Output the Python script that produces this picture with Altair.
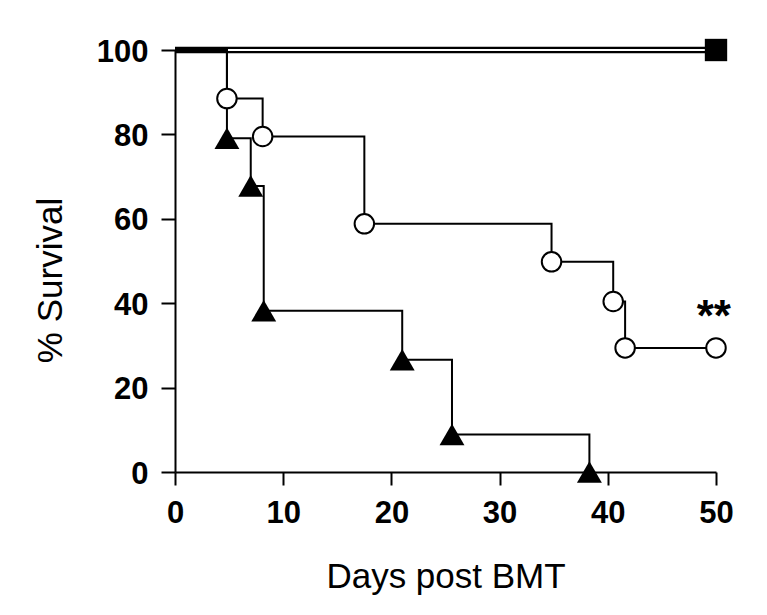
import altair as alt
import pandas as pd

# Kaplan-Meier style survival data
circle_days = [0, 4.8, 8.1, 17.5, 34.8, 40.5, 41.6, 50]
circle_surv = [100, 88.5, 79.5, 58.8, 49.8, 40.4, 29.4, 29.4]

triangle_days = [0, 4.8, 7.0, 8.2, 21.0, 25.6, 38.3]
triangle_surv = [100, 79.1, 67.8, 38.2, 26.6, 8.9, 0]

control_days = [0, 50]
control_surv = [100, 100]

annot_day = [49.8]
annot_surv = [33.5]
annot_text = ["**"]

x_ticks = [0, 10, 20, 30, 40, 50]
y_ticks = [0, 20, 40, 60, 80, 100]

FONT = "Liberation Sans"

circ = pd.DataFrame({"day": circle_days, "surv": circle_surv, "i": range(len(circle_days))})
tri = pd.DataFrame({"day": triangle_days, "surv": triangle_surv, "i": range(len(triangle_days))})
ctrl = pd.DataFrame({"day": control_days, "surv": control_surv, "i": range(len(control_days))})
annot = pd.DataFrame({"day": annot_day, "surv": annot_surv, "t": annot_text})

X = alt.X(
    "day:Q",
    scale=alt.Scale(domain=[0, 50], nice=False, zero=False),
    axis=alt.Axis(
        title="Days post BMT",
        values=x_ticks,
        grid=False,
        domainColor="black",
        domainWidth=2,
        tickColor="black",
        tickWidth=2,
        tickSize=13,
        labelFont=FONT,
        labelFontSize=31,
        labelFontWeight="bold",
        labelColor="black",
        labelPadding=13,
        labelFlush=False,
        titleFont=FONT,
        titleFontSize=35,
        titleFontWeight="normal",
        titleColor="black",
        titleY=115,
        titleBaseline="alphabetic",
    ),
)
Y = alt.Y(
    "surv:Q",
    scale=alt.Scale(domain=[0, 100], nice=False, zero=False),
    axis=alt.Axis(
        title="% Survival",
        values=y_ticks,
        grid=False,
        domainColor="black",
        domainWidth=2,
        tickColor="black",
        tickWidth=2,
        tickSize=14,
        labelFont=FONT,
        labelFontSize=31,
        labelFontWeight="bold",
        labelColor="black",
        labelPadding=13,
        labelOffset=2,
        labelFlush=False,
        titleFont=FONT,
        titleFontSize=35,
        titleFontWeight="normal",
        titleColor="black",
        titleAngle=270,
        titleX=-114,
        titleY=230,
        titleAlign="center",
        titleBaseline="alphabetic",
    ),
)

ctrl_thick = alt.Chart(ctrl).mark_line(color="black", strokeWidth=6.5).encode(
    x=X, y=Y, order="i:Q"
)
ctrl_inner = alt.Chart(ctrl).mark_line(color="white", strokeWidth=2).encode(
    x=X, y=Y, order="i:Q"
)
circ_line = alt.Chart(circ).mark_line(
    color="black", strokeWidth=2, interpolate="step-after"
).encode(x=X, y=Y, order="i:Q")
tri_line = alt.Chart(tri).mark_line(
    color="black", strokeWidth=2, interpolate="step-after"
).encode(x=X, y=Y, order="i:Q")

circ_pts = alt.Chart(circ[circ["i"] > 0]).mark_point(
    shape="circle", filled=True, fill="white", stroke="black", strokeWidth=2,
    size=380, opacity=1,
).encode(x=X, y=Y)
tri_pts = alt.Chart(tri[tri["i"] > 0]).mark_point(
    shape="triangle-up", filled=True, color="black", size=620, opacity=1,
).encode(x=X, y=Y)
sq_pts = alt.Chart(ctrl[ctrl["i"] > 0]).mark_point(
    shape="square", filled=True, color="black", size=500, opacity=1,
).encode(x=X, y=Y)

txt = alt.Chart(annot).mark_text(
    font=FONT, fontSize=44, fontWeight="bold", color="black",
    align="center", baseline="alphabetic",
).encode(x=X, y=Y, text="t:N")

chart = (
    alt.layer(ctrl_thick, ctrl_inner, circ_line, tri_line, circ_pts, tri_pts, sq_pts, txt)
    .properties(
        width=541,
        height=422,
        autosize=alt.AutoSizeParams(type="none"),
        padding={"left": 167, "top": 42, "right": 38, "bottom": 128},
    )
    .configure(background="white", view=alt.ViewConfig(stroke="transparent", strokeWidth=0))
)

chart.save("out.html", embed_options={"renderer": "svg", "actions": False})
